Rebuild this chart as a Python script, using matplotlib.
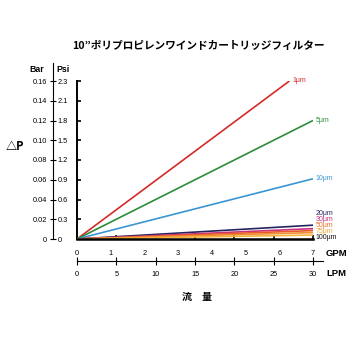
import matplotlib
matplotlib.use("Agg")
import matplotlib.pyplot as plt

plt.rcParams['font.family'] = ['Liberation Sans', 'Noto Sans CJK JP', 'DejaVu Sans']

# Pressure drop vs flow rate for each micron rating
ratings = ['1μm', '5μm', '10μm', '20μm', '30μm', '50μm', '75μm', '100μm']
end_lpm = [27.0, 30, 30, 30, 30, 30, 30, 30]
end_bar = [0.160, 0.120, 0.061, 0.014, 0.0105, 0.0085, 0.0065, 0.004]
line_colors = ['#d42a2a', '#2c8c3c', '#3b95d3', '#24245e', '#c8327c', '#e85a2c', '#f08c32', '#f4b23c']
label_colors = ['#d42a2a', '#2c8c3c', '#3b95d3', '#24245e', '#c8327c', '#e8702c', '#f0a83a', '#111111']

bar_ticks = [0, 0.02, 0.04, 0.06, 0.08, 0.10, 0.12, 0.14, 0.16]
bar_labels = ['0', '0.02', '0.04', '0.06', '0.08', '0.10', '0.12', '0.14', '0.16']
psi_labels = ['0', '0.3', '0.6', '0.9', '1.2', '1.5', '1.8', '2.1', '2.3']
lpm_ticks = [0, 5, 10, 15, 20, 25, 30]
gpm_ticks = [0, 1, 2, 3, 4, 5, 6, 7]

W = H = 350.0
fig = plt.figure(figsize=(3.5, 3.5), dpi=100)

def fx(px):
    return px / W

def fy(py):
    return 1 - py / H

# main plot
x0, x1, y0, y1 = 77, 313, 239, 81
ax = fig.add_axes([fx(x0), fy(y0), fx(x1 - x0), (y0 - y1) / H])
for lpm, dp, c in zip(end_lpm, end_bar, line_colors):
    ax.plot([0, lpm], [0, dp], color=c, lw=1.2, solid_capstyle='butt', zorder=3)
ax.set_xlim(0, 30)
ax.set_ylim(0, 0.16)
ax.set_xticks(lpm_ticks)
ax.set_yticks(bar_ticks)
ax.tick_params(direction='in', length=3, width=1.2, labelbottom=False, labelleft=False)
for s in ['top', 'right']:
    ax.spines[s].set_visible(False)
ax.spines['left'].set_linewidth(1.4)
ax.spines['bottom'].set_linewidth(1.8)
ax.spines['bottom'].set_zorder(4)
ax.patch.set_alpha(0)

# line labels
for i in (0, 1, 2):
    ax.annotate(ratings[i], (end_lpm[i], end_bar[i]), xytext=(2, 0), textcoords='offset points',
                fontsize=5, color=label_colors[i], va='center', ha='left', annotation_clip=False)
# crowded low-pressure labels stacked upward from the axis
for k, i in enumerate(range(len(ratings) - 1, 2, -1)):
    ax.text(30.3, 0.0015 + k * 0.0061, ratings[i], fontsize=5, color=label_colors[i],
            va='center', ha='left')

# Bar / Psi scale
sx, stop = 53, 63
axp = fig.add_axes([fx(sx), fy(y0), 0.0001, (y0 - stop) / H])
axp.set_ylim(0, 0.16 * (y0 - stop) / (y0 - y1))
axp.set_xticks([])
axp.set_yticks(bar_ticks)
axp.set_yticklabels(bar_labels)
axp.tick_params(axis='y', direction='inout', length=5, width=0.8, labelsize=5.3, pad=2)
for s in ['top', 'right', 'bottom']:
    axp.spines[s].set_visible(False)
axp.spines['left'].set_linewidth(0.8)
axp2 = axp.twinx()
axp2.set_ylim(axp.get_ylim())
axp2.set_yticks(bar_ticks)
axp2.set_yticklabels(psi_labels)
axp2.tick_params(axis='y', length=0, labelsize=5.3, pad=3.5)
for s in axp2.spines.values():
    s.set_visible(False)

fig.text(fx(37), fy(70), 'Bar', fontsize=6.3, fontweight='bold', ha='center', va='center')
fig.text(fx(63), fy(70), 'Psi', fontsize=6.3, fontweight='bold', ha='center', va='center')
fig.text(fx(15), fy(146), '△P', fontsize=8, fontweight='bold', ha='center', va='center',
         family=['Noto Sans CJK JP', 'DejaVu Sans'])

# GPM / LPM scale
by, bx1 = 261, 323
axf = fig.add_axes([fx(x0), fy(by), fx(bx1 - x0), 0.0001])
axf.set_xlim(0, 30 * (bx1 - x0) / (x1 - x0))
axf.set_yticks([])
axf.set_xticks(lpm_ticks)
axf.set_xticklabels([str(v) for v in lpm_ticks])
axf.tick_params(axis='x', direction='inout', length=6, width=0.8, labelsize=5.3, pad=4)
for s in ['top', 'right', 'left']:
    axf.spines[s].set_visible(False)
axf.spines['bottom'].set_linewidth(0.8)
axf2 = axf.twiny()
axf2.set_xlim(axf.get_xlim())
axf2.set_xticks([g * 30 / 7 for g in gpm_ticks])
axf2.set_xticklabels([str(g) for g in gpm_ticks])
axf2.tick_params(axis='x', length=0, labelsize=5.3, pad=3)
for s in axf2.spines.values():
    s.set_visible(False)

fig.text(fx(336), fy(254), 'GPM', fontsize=6.8, fontweight='bold', ha='center', va='center')
fig.text(fx(336), fy(273), 'LPM', fontsize=6.8, fontweight='bold', ha='center', va='center')

fig.text(fx(197), fy(297), '流　量', fontsize=7.2, fontweight='bold', ha='center', va='center',
         family=['Noto Sans CJK JP', 'DejaVu Sans'])
fig.text(fx(198), fy(46), '10”ポリプロピレンワインドカートリッジフィルター', fontsize=7.7,
         fontweight='bold', ha='center', va='center', family=['Noto Sans CJK JP', 'DejaVu Sans'])

fig.savefig('out.png', dpi=100)
